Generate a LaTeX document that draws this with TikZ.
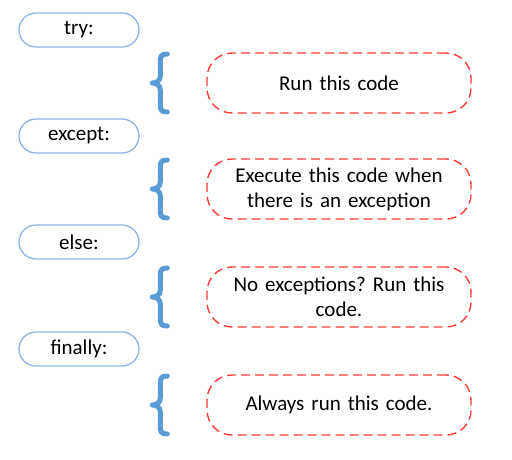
\documentclass[tikz,border=0pt]{standalone}
\usepackage{fontspec}
\setmainfont{Carlito}
\frenchspacing
\definecolor{boxblue}{HTML}{8EB4E3}
\definecolor{braceblue}{HTML}{5B9BD5}
\definecolor{dashred}{HTML}{FF3B3B}
\begin{document}
\begin{tikzpicture}[x=1pt,y=-1pt,
  kw/.style={draw=boxblue,line width=1.3pt,rounded corners=17pt,minimum width=120pt,minimum height=34pt,inner sep=0pt,font=\fontsize{21}{25}\selectfont},
  desc/.style={draw=dashred,line width=1.4pt,dash pattern=on 9pt off 5pt,rounded corners=25pt,minimum width=264pt,minimum height=60pt,inner sep=0pt,align=center,text width=250pt,font=\fontsize{21}{25}\selectfont},
  brace/.style={draw=braceblue,line width=5pt,line cap=round,line join=round}]
\useasboundingbox (0,0) rectangle (512,459);
\node[kw] (try) at (79,30) {try:};
\node[kw] (except) at (79,136) {except:};
\node[kw] (else) at (79,242) {else:};
\node[kw] (finally) at (79,349) {finally:};
\node[desc] (d1) at (339,83) {Run this code};
\node[desc] (d2) at (339,189) {Execute this code when\\there is an exception};
\node[desc] (d3) at (339,297) {No exceptions? Run this\\code.};
\node[desc] (d4) at (339,405) {Always run this code.};
\foreach \n in {d1,d2,d3,d4}{
  \path (\n.west) ++(-46,0) coordinate (c);
  \draw[brace] ([shift={(7,-29)}]c) .. controls ([shift={(1,-29)}]c) and ([shift={(0,-27)}]c) .. ([shift={(0,-21)}]c)
    -- ([shift={(0,-7)}]c) .. controls ([shift={(0,-2)}]c) and ([shift={(-4,0)}]c) .. ([shift={(-8,0)}]c)
    .. controls ([shift={(-4,0)}]c) and ([shift={(0,2)}]c) .. ([shift={(0,7)}]c)
    -- ([shift={(0,21)}]c) .. controls ([shift={(0,27)}]c) and ([shift={(1,29)}]c) .. ([shift={(7,29)}]c);
}
\end{tikzpicture}
\end{document}
